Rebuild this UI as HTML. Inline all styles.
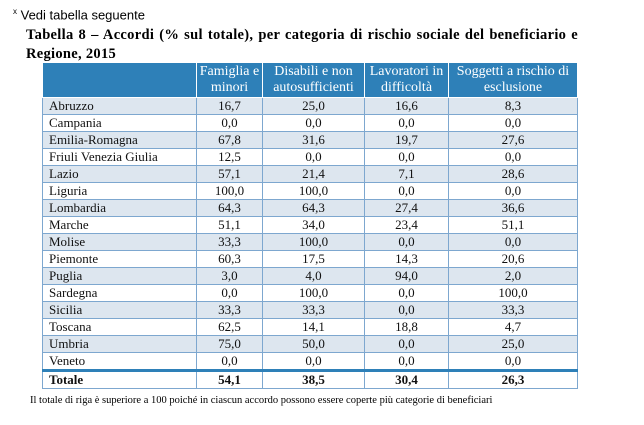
<!DOCTYPE html>
<html><head><meta charset="utf-8"><style>
body{margin:0;width:644px;height:425px;background:#fff;position:relative;overflow:hidden;font-family:"Liberation Serif",serif;}
.n{position:absolute;left:13px;top:7px;font-family:"Liberation Sans",sans-serif;font-size:13px;color:#000}
.n sup{font-size:8px}
.t{position:absolute;left:26px;top:26px;width:552px;font-weight:bold;font-size:14.5px;line-height:19px;text-align:justify;text-align-last:left;letter-spacing:0.3px}
table{position:absolute;left:42px;top:63px;width:535px;table-layout:fixed;border-collapse:collapse;font-size:13px;font-family:"Liberation Serif",serif}
td{border:1px solid #7da7cf;padding:0 6px;height:16px;line-height:16px;text-align:center;color:#111;font-family:"Liberation Serif",serif;white-space:nowrap}
td:first-child{text-align:left}
tr.h td{background:#2e80b8;color:#fff;border:1px solid #fff;border-top:none;line-height:16px;height:34px;padding:0;font-size:14px;white-space:normal}
tr.h td:first-child{border-left:none}
tr.a td{background:#dde6ef}
tr.tot td{font-weight:bold;border-top:3px solid #2e80b8;height:16px}
.f{position:absolute;left:30px;top:395px;font-size:10.5px;color:#000;font-family:"Liberation Serif",serif}
</style></head><body>
<div class="n"><sup>x</sup> Vedi tabella seguente</div>
<div class="t">Tabella 8 – Accordi (% sul totale), per categoria di rischio sociale del beneficiario e Regione, 2015</div>
<table>
<colgroup><col style="width:154px"><col style="width:66px"><col style="width:102px"><col style="width:84px"><col style="width:129px"></colgroup>
<tr class="h"><td></td><td>Famiglia e minori</td><td>Disabili e non autosufficienti</td><td>Lavoratori in difficoltà</td><td>Soggetti a rischio di esclusione</td></tr>
<tr class="a"><td>Abruzzo</td><td>16,7</td><td>25,0</td><td>16,6</td><td>8,3</td></tr>
<tr><td>Campania</td><td>0,0</td><td>0,0</td><td>0,0</td><td>0,0</td></tr>
<tr class="a"><td>Emilia-Romagna</td><td>67,8</td><td>31,6</td><td>19,7</td><td>27,6</td></tr>
<tr><td>Friuli Venezia Giulia</td><td>12,5</td><td>0,0</td><td>0,0</td><td>0,0</td></tr>
<tr class="a"><td>Lazio</td><td>57,1</td><td>21,4</td><td>7,1</td><td>28,6</td></tr>
<tr><td>Liguria</td><td>100,0</td><td>100,0</td><td>0,0</td><td>0,0</td></tr>
<tr class="a"><td>Lombardia</td><td>64,3</td><td>64,3</td><td>27,4</td><td>36,6</td></tr>
<tr><td>Marche</td><td>51,1</td><td>34,0</td><td>23,4</td><td>51,1</td></tr>
<tr class="a"><td>Molise</td><td>33,3</td><td>100,0</td><td>0,0</td><td>0,0</td></tr>
<tr><td>Piemonte</td><td>60,3</td><td>17,5</td><td>14,3</td><td>20,6</td></tr>
<tr class="a"><td>Puglia</td><td>3,0</td><td>4,0</td><td>94,0</td><td>2,0</td></tr>
<tr><td>Sardegna</td><td>0,0</td><td>100,0</td><td>0,0</td><td>100,0</td></tr>
<tr class="a"><td>Sicilia</td><td>33,3</td><td>33,3</td><td>0,0</td><td>33,3</td></tr>
<tr><td>Toscana</td><td>62,5</td><td>14,1</td><td>18,8</td><td>4,7</td></tr>
<tr class="a"><td>Umbria</td><td>75,0</td><td>50,0</td><td>0,0</td><td>25,0</td></tr>
<tr><td>Veneto</td><td>0,0</td><td>0,0</td><td>0,0</td><td>0,0</td></tr>
<tr class="tot"><td>Totale</td><td>54,1</td><td>38,5</td><td>30,4</td><td>26,3</td></tr>
</table>
<div class="f">Il totale di riga è superiore a 100 poiché in ciascun accordo possono essere coperte più categorie di beneficiari</div>
</body></html>
